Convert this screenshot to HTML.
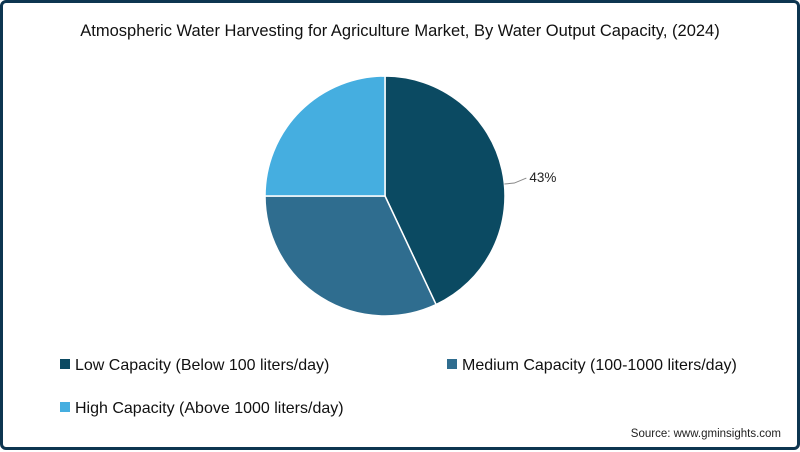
<!DOCTYPE html>
<html><head><meta charset="utf-8"><style>
html,body{margin:0;padding:0;}
body{width:800px;height:450px;overflow:hidden;background:#fff;font-family:"Liberation Sans",sans-serif;}
#frame{position:absolute;left:0;top:0;width:794px;height:444px;border:3px solid #0d3550;border-radius:6px;background:#fff;}
</style></head><body>
<div id="frame">
<svg id="chart" width="794" height="444"></svg>
</div>
<script>
const categories = ["Low Capacity (Below 100 liters/day)","Medium Capacity (100-1000 liters/day)","High Capacity (Above 1000 liters/day)"];
const values = [43, 32, 25];
const labels = ["43%", "", ""];
const colors = ["#0b4a62","#2f6d8f","#45aee0"];
const NS="http://www.w3.org/2000/svg";
const svg=document.getElementById('chart');
function mk(t,a,p){const e=document.createElementNS(NS,t);for(const k in a)e.setAttribute(k,a[k]);(p||svg).appendChild(e);return e;}
const t=mk('text',{x:397,y:33,'text-anchor':'middle','font-size':'16.5',fill:'#111'});
t.textContent="Atmospheric Water Harvesting for Agriculture Market, By Water Output Capacity, (2024)";


const cx=382,cy=193,r=120;
const total=values.reduce((a,b)=>a+b,0);
let ang=0;
function pt(a,rr){return [cx+rr*Math.sin(a),cy-rr*Math.cos(a)];}
values.forEach((v,i)=>{
  const a0=ang,a1=ang+v/total*2*Math.PI;ang=a1;
  const p0=pt(a0,r),p1=pt(a1,r);
  const large=(a1-a0)>Math.PI?1:0;
  const s=mk('path',{d:`M${cx},${cy} L${p0[0]},${p0[1]} A${r},${r} 0 ${large} 1 ${p1[0]},${p1[1]} Z`,fill:colors[i],stroke:'#fff','stroke-width':1.5});
  
  
  if(labels[i]){
    const m=(a0+a1)/2+0.12;const e=pt(m,r),o=pt(m,r+10);
    const l=mk('polyline',{points:`${e[0]},${e[1]} ${o[0]},${o[1]} ${o[0]+12},${o[1]-5}`,fill:'none',stroke:'#888','stroke-width':1});
    
    
    const lt=mk('text',{x:o[0]+15,y:o[1]-1,'font-size':'13.5',fill:'#222'});lt.textContent=labels[i];
    
    
  }
});
const lpos=[[57,366],[444,366],[57,409]];
categories.forEach((c,i)=>{
  const g=mk('g',{});
  
  
  mk('rect',{x:lpos[i][0],y:lpos[i][1]-10,width:10,height:10,fill:colors[i]},g);
  const tx=mk('text',{x:lpos[i][0]+15,y:lpos[i][1]+1,'font-size':'16',fill:'#111'},g);tx.textContent=c;
});
const src=mk('text',{x:778,y:434,'text-anchor':'end','font-size':'11.5',fill:'#222'});
src.textContent="Source: www.gminsights.com";


</script>
</body></html>
